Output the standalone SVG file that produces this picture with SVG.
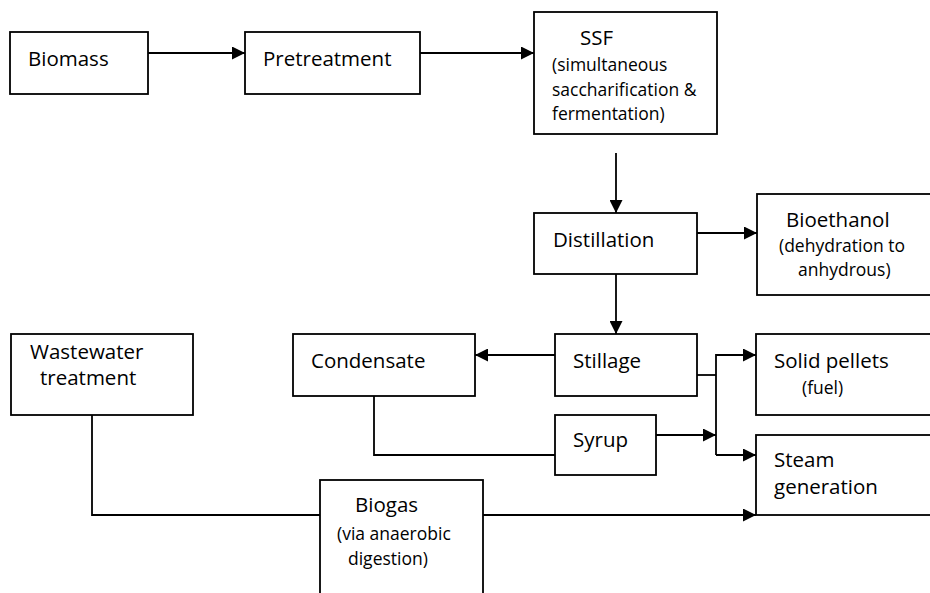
<svg xmlns="http://www.w3.org/2000/svg" width="930" height="593" viewBox="0 0 930 593">
  <style>
    .box { fill: #fff; stroke: #000; stroke-width: 1.8; }
    .wire { fill: none; stroke: #000; stroke-width: 1.8; }
    .t { font-family: "Open Sans", "Noto Sans", sans-serif; font-size: 20.5px; fill: #000; }
    .s { font-family: "Open Sans", "Noto Sans", sans-serif; font-size: 17.5px; fill: #000; }
  </style>
  <defs>
    <marker id="arrow" markerUnits="userSpaceOnUse" markerWidth="13" markerHeight="13" refX="13" refY="6.5" orient="auto">
      <path d="M0,0 L13,6.5 L0,13 z" fill="#000"/>
    </marker>
  </defs>
  <rect width="930" height="593" fill="#fff"/>

  <g id="connectors">
    <path class="wire" d="M148,53 H245" marker-end="url(#arrow)"/>
    <path class="wire" d="M420,53 H534" marker-end="url(#arrow)"/>
    <path class="wire" d="M616,153 V213" marker-end="url(#arrow)"/>
    <path class="wire" d="M697,233 H757" marker-end="url(#arrow)"/>
    <path class="wire" d="M616,274 V334" marker-end="url(#arrow)"/>
    <path class="wire" d="M555,355 H475" marker-end="url(#arrow)"/>
    <path class="wire" d="M697,375 H716"/>
    <path class="wire" d="M716,455 V355 H756" marker-end="url(#arrow)"/>
    <path class="wire" d="M716,455 H756" marker-end="url(#arrow)"/>
    <path class="wire" d="M656,435 H716" marker-end="url(#arrow)"/>
    <path class="wire" d="M374,396 V455 H555"/>
    <path class="wire" d="M92,415 V515 H320"/>
    <path class="wire" d="M483,515 H756" marker-end="url(#arrow)"/>
  </g>

  <g id="biomass">
    <rect class="box" x="10" y="32" width="138" height="62"/>
    <text class="t" x="28" y="66">Biomass</text>
  </g>
  <g id="pretreatment">
    <rect class="box" x="245" y="32" width="175" height="62"/>
    <text class="t" x="263" y="66">Pretreatment</text>
  </g>
  <g id="ssf">
    <rect class="box" x="534" y="12" width="183" height="122"/>
    <text class="t" x="580" y="45">SSF</text>
    <text class="s" x="552" y="71">(simultaneous</text>
    <text class="s" x="552" y="96">saccharification &amp;</text>
    <text class="s" x="552" y="120">fermentation)</text>
  </g>
  <g id="distillation">
    <rect class="box" x="534" y="213" width="163" height="61"/>
    <text class="t" x="553" y="247">Distillation</text>
  </g>
  <g id="bioethanol">
    <rect class="box" x="757" y="194" width="180" height="101"/>
    <text class="t" x="786" y="227">Bioethanol</text>
    <text class="s" x="779" y="252">(dehydration to</text>
    <text class="s" x="798" y="276">anhydrous)</text>
  </g>
  <g id="stillage">
    <rect class="box" x="555" y="334" width="142" height="62"/>
    <text class="t" x="573" y="368">Stillage</text>
  </g>
  <g id="condensate">
    <rect class="box" x="293" y="334" width="182" height="62"/>
    <text class="t" x="311" y="368">Condensate</text>
  </g>
  <g id="wastewater">
    <rect class="box" x="11" y="334" width="182" height="81"/>
    <text class="t" x="30" y="359">Wastewater</text>
    <text class="t" x="40" y="385">treatment</text>
  </g>
  <g id="syrup">
    <rect class="box" x="555" y="415" width="101" height="60"/>
    <text class="t" x="573" y="447">Syrup</text>
  </g>
  <g id="solid-pellets">
    <rect class="box" x="756" y="334" width="181" height="81"/>
    <text class="t" x="774" y="368">Solid pellets</text>
    <text class="s" x="802" y="394">(fuel)</text>
  </g>
  <g id="steam">
    <rect class="box" x="756" y="435" width="181" height="80"/>
    <text class="t" x="774" y="467">Steam</text>
    <text class="t" x="774" y="494">generation</text>
  </g>
  <g id="biogas">
    <rect class="box" x="320" y="480" width="163" height="125"/>
    <text class="t" x="355" y="512">Biogas</text>
    <text class="s" x="337" y="540">(via anaerobic</text>
    <text class="s" x="348" y="565">digestion)</text>
  </g>
</svg>
